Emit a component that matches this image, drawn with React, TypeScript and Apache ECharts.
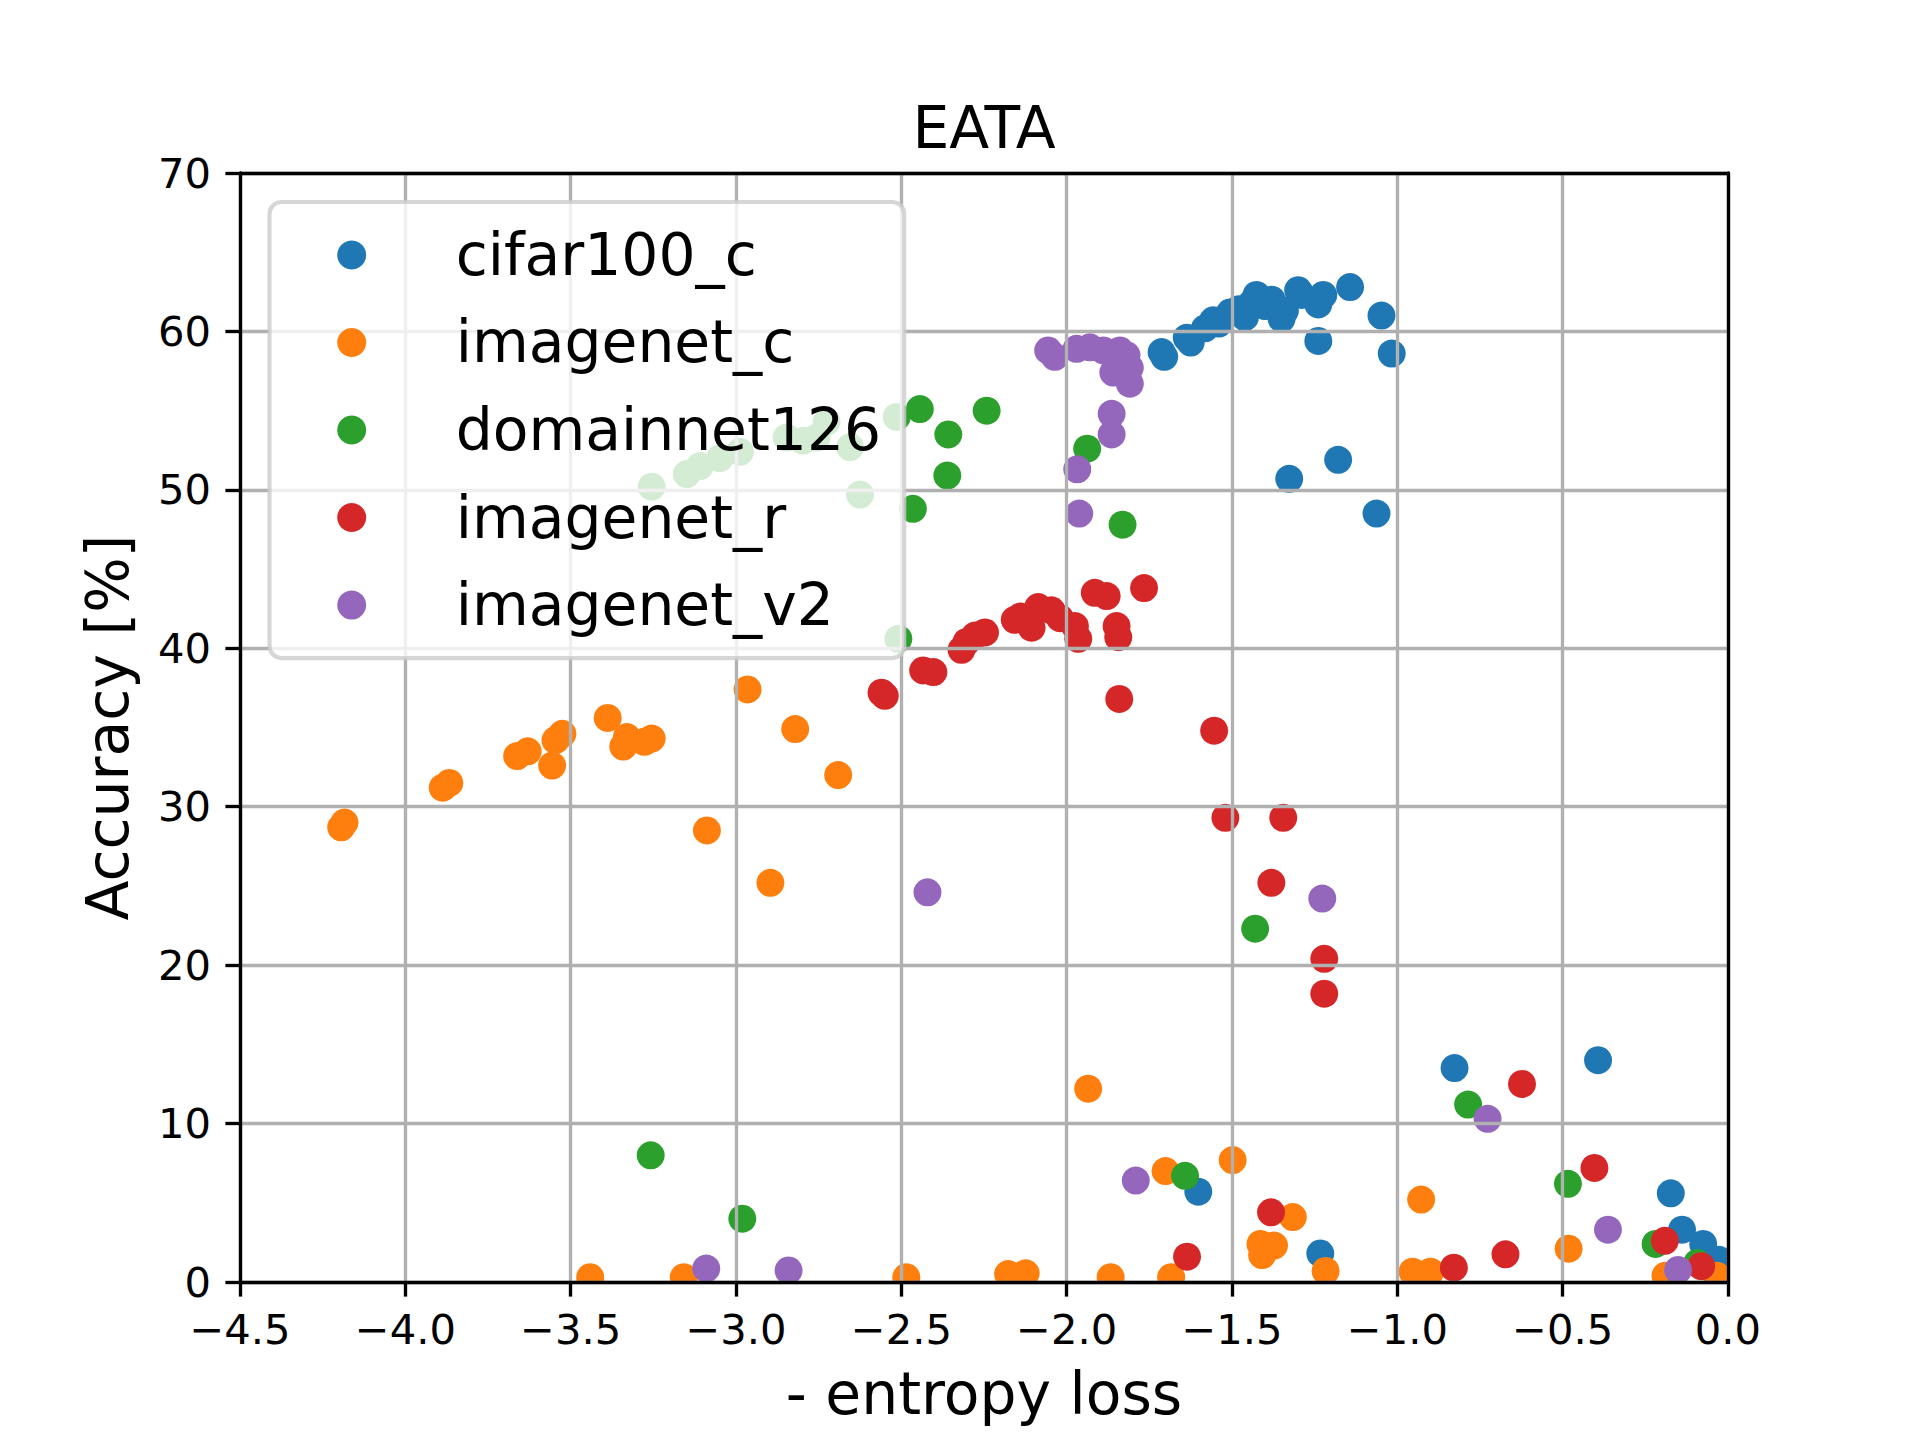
import React, { useEffect, useRef } from "react";
import * as echarts from "echarts";

// ---- data (x = - entropy loss, y = accuracy %) ----
const seriesNames = ["cifar100_c", "imagenet_c", "domainnet126", "imagenet_r", "imagenet_v2"];
const seriesColors = ["#1f77b4", "#ff7f0e", "#2ca02c", "#d62728", "#9467bd"];

const cifar100C: [number, number][] = [
  [-1.713, 58.7], [-1.705, 58.4], [-1.637, 59.6], [-1.625, 59.3], [-1.582, 60.2], [-1.557, 60.7],
  [-1.540, 60.5], [-1.506, 61.2], [-1.480, 61.4], [-1.461, 60.9], [-1.440, 61.8], [-1.426, 62.3],
  [-1.400, 61.6], [-1.380, 62.0], [-1.350, 60.8], [-1.340, 61.3], [-1.300, 62.6], [-1.290, 62.3],
  [-1.239, 61.7], [-1.224, 62.3], [-1.239, 59.4], [-1.143, 62.8], [-1.048, 61.0], [-1.017, 58.6],
  [-1.327, 50.7], [-1.179, 51.9], [-1.063, 48.5], [-0.827, 13.5], [-0.393, 14.0], [-0.173, 5.6],
  [-0.139, 3.3], [-0.075, 2.4], [-0.028, 1.4], [-1.233, 1.8], [-1.602, 5.7],
];

const imagenetC: [number, number][] = [
  [-4.194, 28.7], [-4.184, 29.0], [-3.887, 31.2], [-3.867, 31.5], [-3.662, 33.2], [-3.630, 33.5],
  [-3.556, 32.6], [-3.546, 34.2], [-3.525, 34.6], [-3.388, 35.6], [-3.341, 33.8], [-3.330, 34.4],
  [-3.277, 34.1], [-3.255, 34.3], [-2.965, 37.4], [-2.821, 34.9], [-2.691, 32.0], [-3.088, 28.5],
  [-2.896, 25.2], [-1.935, 12.2], [-1.701, 7.0], [-1.498, 7.7], [-0.928, 5.2], [-1.414, 2.4],
  [-1.373, 2.3], [-1.409, 1.7], [-1.316, 4.1], [-1.217, 0.7], [-0.482, 2.1], [-3.441, 0.3],
  [-3.158, 0.3], [-2.485, 0.3], [-2.177, 0.5], [-2.124, 0.55], [-1.867, 0.3], [-1.684, 0.3],
  [-0.954, 0.65], [-0.900, 0.65], [-0.189, 0.4], [-0.034, 0.4],
];

const domainnet126: [number, number][] = [
  [-3.255, 50.2], [-3.149, 51.0], [-3.109, 51.5], [-3.049, 52.0], [-2.988, 52.4], [-2.847, 53.3],
  [-2.797, 53.1], [-2.756, 53.3], [-2.726, 54.3], [-2.655, 52.7], [-2.625, 49.7], [-2.514, 54.6],
  [-2.509, 40.6], [-2.465, 48.8], [-2.444, 55.1], [-2.358, 53.5], [-2.361, 50.9], [-2.242, 55.0],
  [-1.938, 52.6], [-1.831, 47.8], [-3.258, 8.0], [-2.981, 4.0], [-1.642, 6.7], [-1.430, 22.3],
  [-0.786, 11.2], [-0.484, 6.2], [-0.219, 2.4], [-0.093, 1.2],
];

const imagenetR: [number, number][] = [
  [-2.560, 37.2], [-2.550, 37.0], [-2.434, 38.6], [-2.403, 38.5], [-2.318, 39.9], [-2.303, 40.4],
  [-2.277, 40.8], [-2.247, 41.0], [-2.157, 41.8], [-2.140, 42.0], [-2.106, 41.3], [-2.086, 42.6],
  [-2.046, 42.4], [-2.020, 41.9], [-1.975, 41.4], [-1.965, 40.6], [-1.915, 43.5], [-1.879, 43.3],
  [-1.766, 43.8], [-1.849, 41.4], [-1.844, 40.7], [-1.841, 36.8], [-1.554, 34.8], [-1.520, 29.3],
  [-1.345, 29.3], [-1.381, 25.2], [-1.221, 20.4], [-1.221, 18.2], [-1.382, 4.4], [-1.636, 1.6],
  [-0.829, 0.9], [-0.673, 1.75], [-0.623, 12.5], [-0.404, 7.2], [-0.191, 2.6], [-0.081, 1.0],
];

const imagenetV2: [number, number][] = [
  [-2.056, 58.8], [-2.036, 58.4], [-1.970, 58.9], [-1.930, 59.0], [-1.889, 58.8], [-1.839, 58.8],
  [-1.819, 58.5], [-1.809, 57.7], [-1.859, 57.4], [-1.809, 56.7], [-1.864, 54.8], [-1.864, 53.5],
  [-1.968, 51.3], [-1.962, 48.5], [-2.421, 24.6], [-1.227, 24.2], [-0.727, 10.3], [-1.791, 6.4],
  [-3.090, 0.85], [-2.841, 0.73], [-0.363, 3.3], [-0.151, 0.76],
];

const datasets = [cifar100C, imagenetC, domainnet126, imagenetR, imagenetV2];

const xMin = -4.5;
const xMax = 0;
const xStep = 0.5;
const yMin = 0;
const yMax = 70;
const yStep = 10;

const titleText = "EATA";
const xLabelText = "- entropy loss";
const yLabelText = "Accuracy [%]";

const FONT = "DejaVu Sans";

export default function App() {
  const ref = useRef<HTMLDivElement>(null);

  useEffect(() => {
    document.body.style.margin = "0";
    const chart = echarts.init(ref.current as HTMLDivElement, null, { renderer: "svg" });

    const fmtX = (v: number) => {
      const a = Math.abs(v).toFixed(1);
      return v < -1e-9 ? "\u2212" + a : a;
    };

    const lineW = 3.33;
    const axisCommon = {
      z: 3,
      axisLine: { show: true, onZero: false, lineStyle: { color: "#000", width: lineW } },
    };

    const series = datasets.map((d, i) => ({
      type: "custom",
      name: seriesNames[i],
      data: d,
      clip: true,
      z: 2,
      color: seriesColors[i],
      itemStyle: { color: seriesColors[i] },
      encode: { x: 0, y: 1 },
      renderItem: (_params: any, api: any) => {
        const p = api.coord([api.value(0), api.value(1)]);
        return {
          type: "circle",
          shape: { cx: p[0], cy: p[1], r: 14 },
          style: { fill: seriesColors[i] },
        };
      },
    }));

    chart.setOption({
      animation: false,
      backgroundColor: "#ffffff",
      grid: { left: 240, right: 192, top: 173, bottom: 158, containLabel: false, outerBoundsMode: "none" },
      xAxis: [
        {
          ...axisCommon,
          type: "value",
          position: "bottom",
          min: xMin,
          max: xMax,
          interval: xStep,
          axisTick: { show: true, inside: false, length: 14.6, lineStyle: { color: "#000", width: lineW } },
          axisLabel: { show: true, margin: 26, color: "#000", fontSize: 41.7, fontFamily: FONT, formatter: fmtX },
          splitLine: { show: true, lineStyle: { color: "#b0b0b0", width: lineW } },
        },
        {
          ...axisCommon,
          type: "value",
          position: "top",
          min: xMin,
          max: xMax,
          interval: xStep,
          axisTick: { show: false },
          axisLabel: { show: false },
          splitLine: { show: false },
        },
      ],
      yAxis: [
        {
          ...axisCommon,
          type: "value",
          position: "left",
          min: yMin,
          max: yMax,
          interval: yStep,
          axisTick: { show: true, inside: false, length: 14.6, lineStyle: { color: "#000", width: lineW } },
          axisLabel: { show: true, margin: 29, color: "#000", fontSize: 41.7, fontFamily: FONT },
          splitLine: { show: true, lineStyle: { color: "#b0b0b0", width: lineW } },
        },
        {
          ...axisCommon,
          type: "value",
          position: "right",
          min: yMin,
          max: yMax,
          interval: yStep,
          axisTick: { show: false },
          axisLabel: { show: false },
          splitLine: { show: false },
        },
      ],
      legend: {
        show: true,
        orient: "vertical",
        left: 269.5,
        top: 202,
        z: 4,
        selectedMode: false,
        padding: [17.8, 23, 17.8, 67.7],
        itemGap: 17.2,
        itemWidth: 29,
        itemHeight: 29,
        backgroundColor: "rgba(255,255,255,0.8)",
        borderColor: "rgba(204,204,204,0.8)",
        borderWidth: 4.17,
        borderRadius: 12,
        textStyle: {
          color: "#000",
          fontSize: 58.33,
          fontFamily: FONT,
          lineHeight: 58.33,
          padding: [0, 0, 12, 84.5],
        },
        data: seriesNames.map((n, i) => ({ name: n, icon: "circle", itemStyle: { color: seriesColors[i] } })),
      },
      graphic: [
        {
          type: "text",
          x: 984,
          y: 128,
          z: 10,
          style: { text: titleText, fill: "#000", fontSize: 58.33, fontFamily: FONT, align: "center", verticalAlign: "middle" },
        },
        {
          type: "text",
          x: 984,
          y: 1394,
          z: 10,
          style: { text: xLabelText, fill: "#000", fontSize: 58.33, fontFamily: FONT, align: "center", verticalAlign: "middle" },
        },
        {
          type: "text",
          x: 108,
          y: 727.5,
          rotation: Math.PI / 2,
          z: 10,
          style: { text: yLabelText, fill: "#000", fontSize: 58.33, fontFamily: FONT, align: "center", verticalAlign: "middle" },
        },
      ],
      series,
    } as any);

    return () => {
      chart.dispose();
    };
  }, []);

  return (
    <div
      ref={ref}
      style={{ position: "absolute", left: 0, top: 0, width: 1920, height: 1440, background: "#fff" }}
    />
  );
}
